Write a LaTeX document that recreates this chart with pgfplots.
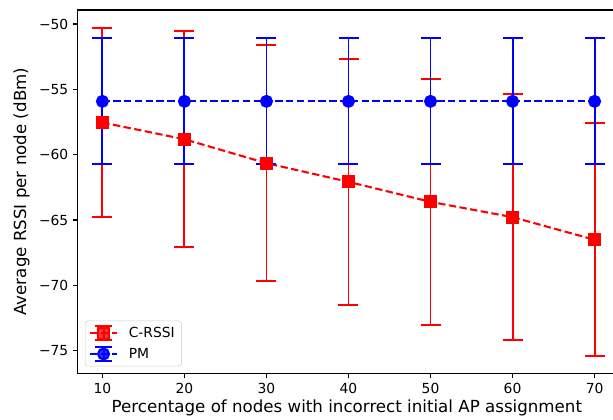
\documentclass[border=0pt]{standalone}
\usepackage{pgfplots}
\pgfplotsset{compat=1.18}
\usepackage{fontspec}
\setmainfont{DejaVu Sans}
\pgfplotstableread{
x y e
10 -57.54 7.25
20 -58.82 8.26
30 -60.65 9.05
40 -62.08 9.43
50 -63.61 9.41
60 -64.78 9.41
70 -66.51 8.91
}\crssi
\pgfplotstableread{
x y e
10 -55.92 4.82
20 -55.92 4.82
30 -55.92 4.82
40 -55.92 4.82
50 -55.92 4.82
60 -55.92 4.82
70 -55.92 4.82
}\pm
\begin{document}
\begin{tikzpicture}
\begin{axis}[
  name=ax,
  scale only axis,
  width=406.05pt, height=272.5pt,
  xmin=7, xmax=73, ymin=-76.73, ymax=-48.93,
  axis line style={line width=0.83pt},
  tick style={line width=0.83pt, black},
  tick align=outside, major tick length=3.6pt,
  xtick pos=lower, ytick pos=left,
  xtick={10,20,30,40,50,60,70},
  ytick={-75,-70,-65,-60,-55,-50},
  yticklabels={−75,−70,−65,−60,−55,−50},
  /pgf/number format/assume math mode=true,
  ticklabel style={font=\fontsize{10.4}{12.5}\selectfont},
  xlabel={Percentage of nodes with incorrect initial AP assignment},
  ylabel={Average RSSI per node (dBm)},
  label style={font=\fontsize{12.5}{15}\selectfont},
  xlabel style={at={(axis description cs:0.497,-0.0964)}, anchor=center},
  ylabel style={at={(axis description cs:-0.104,0.5)}, anchor=center},
  legend style={at={(0.0129,0.0193)}, anchor=south west,
    draw=black!20, rounded corners=2pt, fill=white, fill opacity=0.8, text opacity=1,
    font=\fontsize{10.4}{12.5}\selectfont, inner xsep=3pt, inner ysep=2.5pt,
    row sep=2.5pt, /tikz/every odd column/.append style={column sep=6pt}},
  legend cell align=left,
  legend image code/.code={%
    \draw[#1, solid, mark=none, line width=1.45pt] (10.1pt,-5.5pt) -- (10.1pt,5.5pt);
    \draw[#1, solid, mark=none, line width=1.45pt] (3.4pt,5.5pt) -- (16.8pt,5.5pt) (3.4pt,-5.5pt) -- (16.8pt,-5.5pt);
    \draw[#1, mark repeat=2, mark phase=2] plot coordinates {(0pt,0pt) (10.1pt,0pt) (20.25pt,0pt)};
  },
]
\addplot[red, line width=1.56pt, dash pattern=on 5.5pt off 2.6pt, mark=square*, mark size=4.1pt,
  mark options={solid},
  error bars/.cd, y dir=both, y explicit,
  error bar style={solid, line width=1.45pt, red},
  error mark options={rotate=90, mark size=7.5pt, line width=1.45pt, red}]
  table[x=x, y=y, y error=e] {\crssi};
\addlegendentry{C-RSSI}
\addplot[blue, line width=1.56pt, dash pattern=on 5.5pt off 2.6pt, mark=*, mark size=4.1pt,
  mark options={solid},
  error bars/.cd, y dir=both, y explicit,
  error bar style={solid, line width=1.45pt, blue},
  error mark options={rotate=90, mark size=7.5pt, line width=1.45pt, blue}]
  table[x=x, y=y, y error=e] {\pm};
\addlegendentry{PM}
\addplot[red, only marks, mark=square*, mark size=4.1pt, forget plot] table[x=x, y=y] {\crssi};
\end{axis}
\pgfresetboundingbox
\path[use as bounding box] ([xshift=-58.35pt, yshift=-34.3pt]ax.south west) rectangle ([xshift=-4.65pt, yshift=7.5pt]ax.north east);
\end{tikzpicture}
\end{document}
